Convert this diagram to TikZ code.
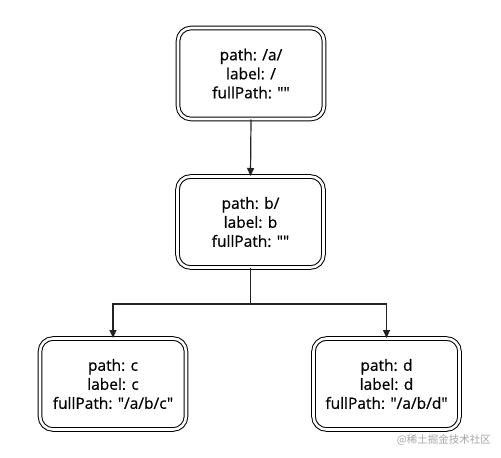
\documentclass[tikz,border=0pt]{standalone}
\usepackage{fontspec}
\setmainfont{Open Sans}
\newfontfamily\boxfont[FakeBold=0.6]{Open Sans}
\newfontfamily\cjk{Noto Sans CJK SC}
\usetikzlibrary{arrows.meta}
\definecolor{lineclr}{HTML}{222222}
\newcommand\dq{\char34 }
\tikzset{
  treebox/.style={draw=black, line width=1pt, double=white, double distance=2.6pt,
    rounded corners=13pt, minimum width=146pt, minimum height=91pt,
    align=center, font=\boxfont\fontsize{15.5}{19}\selectfont, inner sep=0pt},
  link/.style={draw=lineclr, line width=1.2pt},
  arr/.style={link, -{Triangle[length=8pt,width=7pt]}}
}
\begin{document}
\begin{tikzpicture}[x=1pt,y=-1pt]
\useasboundingbox (0,0) rectangle (501,458);
\fill[white] (0,0) rectangle (501,458);
\node[treebox] (root) at (251,73.5) {path: /a/\\label: /\\fullPath: \dq\dq};
\node[treebox] (mid) at (250.5,222) {path: b/\\label: b\\fullPath: \dq\dq};
\node[treebox] (left) at (113,384) {path: c\\label: c\\fullPath: \dq/a/b/c\dq};
\node[treebox] (right) at (386.5,384) {path: d\\label: d\\fullPath: \dq/a/b/d\dq};
\coordinate (split) at (250.5,304);
\draw[arr] (root.south) -- (mid.north);
\draw[link] (mid.south) -- (split);
\draw[arr] (split) -| (left.north);
\draw[arr] (split) -| (right.north);
\node[text=black!35, font=\cjk\fontsize{10.5}{12}\selectfont, anchor=east, inner sep=0pt] (wm) at (491,440) {@稀土掘金技术社区};
\end{tikzpicture}
\end{document}
